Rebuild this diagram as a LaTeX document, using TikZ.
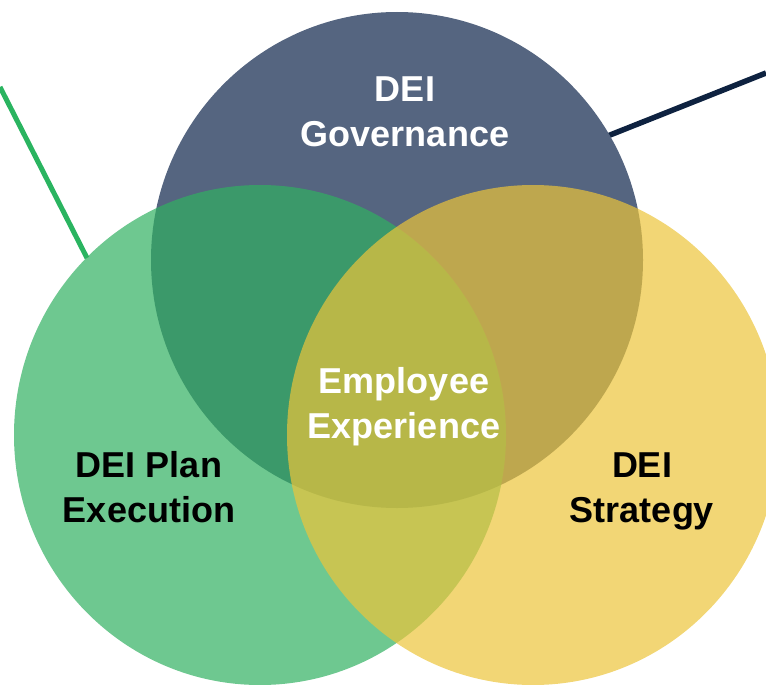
\documentclass[tikz,border=0pt]{standalone}
\usepackage{fontspec}
\setmainfont{Liberation Sans}
\usetikzlibrary{shapes.geometric}
\definecolor{slate}{RGB}{85,101,128}
\definecolor{gbase}{RGB}{49,176,97}
\definecolor{ybase}{RGB}{236,196,58}
\definecolor{gline}{RGB}{42,180,96}
\definecolor{navy}{RGB}{14,34,64}
\begin{document}
\begin{tikzpicture}[x=1pt,y=-1pt,
  venn/.style={ellipse,inner sep=0pt,outer sep=0pt,minimum width=492pt,minimum height=500pt},
  lbl/.style={align=center,font=\fontsize{36}{45}\selectfont\bfseries,inner sep=0pt},
  connector/.style={line width=5.5pt}]
\useasboundingbox (0,0) rectangle (766,685);
\coordinate (navyend) at (766,73);
\coordinate (navystart) at (600,139);
\draw[connector,navy] (navystart) -- (navyend);
\node[venn,minimum height=496pt,fill=slate] (gov) at (397,260) {};
\coordinate (glineA) at (0,87);
\coordinate (glineB) at (87,258);
\draw[connector,gline,line width=5pt] (glineA) -- (glineB);
\node[venn,fill=gbase,fill opacity=0.7] (plan) at (260,435) {};
\node[venn,fill=ybase,fill opacity=0.7] (strat) at (533,435) {};
\node[lbl,text=white] (tgov) at (405,111.5) {DEI\\Governance};
\node[lbl,text=white] (temp) at (404,406.5) {Employee\\Experience};
\node[lbl,text=black] (tplan) at (149,487) {DEI Plan\\Execution};
\node[lbl,text=black] (tstrat) at (642,491) {DEI\\Strategy};
\end{tikzpicture}
\end{document}
